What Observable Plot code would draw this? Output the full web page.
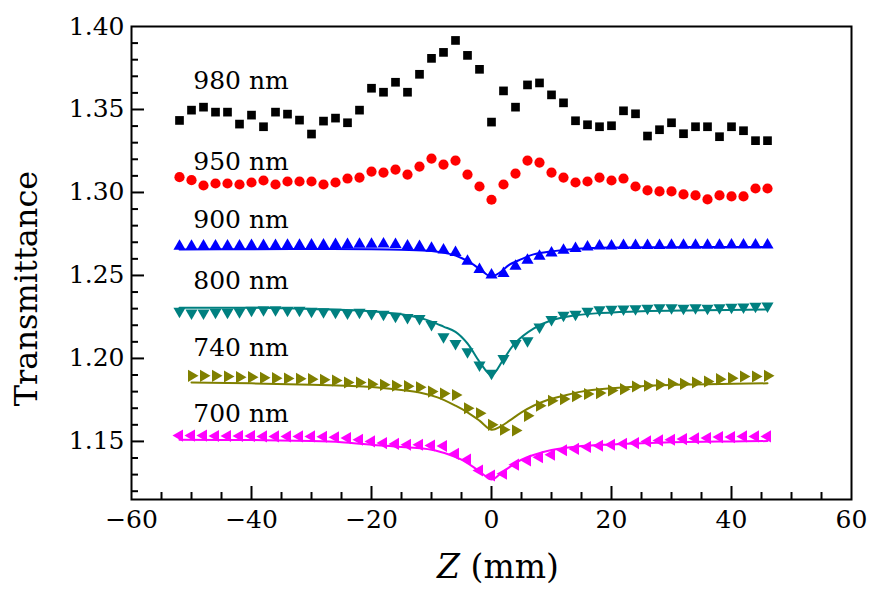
<!DOCTYPE html>
<html><head><meta charset="utf-8">
<script src="https://cdn.jsdelivr.net/npm/d3@7"></script>
<script src="https://cdn.jsdelivr.net/npm/@observablehq/plot@0.6"></script>
<style>body{margin:0;background:#fff}#chart{width:880px;height:592px}</style>
</head><body><div id="chart"></div>
<script>
// ---------- data ----------
const zPos = [-52,-50,-48,-46,-44,-42,-40,-38,-36,-34,-32,-30,-28,-26,-24,-22,-20,-18,-16,-14,-12,-10,-8,-6,-4,-2,0,2,4,6,8,10,12,14,16,18,20,22,24,26,28,30,32,34,36,38,40,42,44,46];
const zPos740 = [-50,-48,-46,-44,-42,-40,-38,-36,-34,-32,-30,-28,-26,-24,-22,-20,-18,-16,-14,-12,-10,-8,-6,-4,-2,0,2,4,6,8,10,12,14,16,18,20,22,24,26,28,30,32,34,36,38,40,42,44,46];

const t980 = [1.3434,1.3496,1.3514,1.3484,1.3484,1.3412,1.3466,1.3396,1.3484,1.3472,1.3436,1.3352,1.3430,1.3448,1.3420,1.3496,1.3628,1.3604,1.3664,1.3604,1.3712,1.3808,1.3844,1.3916,1.3826,1.3742,1.3424,1.3612,1.3514,1.3648,1.3660,1.3588,1.3540,1.3432,1.3408,1.3396,1.3402,1.3492,1.3474,1.3340,1.3378,1.3420,1.3354,1.3396,1.3396,1.3336,1.3396,1.3372,1.3312,1.3312];
const t950 = [1.3092,1.3074,1.3042,1.3054,1.3054,1.3048,1.3060,1.3072,1.3048,1.3066,1.3066,1.3066,1.3048,1.3060,1.3084,1.3090,1.3126,1.3120,1.3138,1.3108,1.3156,1.3204,1.3168,1.3192,1.3108,1.3036,1.2956,1.3048,1.3114,1.3192,1.3180,1.3120,1.3090,1.3060,1.3066,1.3090,1.3072,1.3084,1.3036,1.3012,1.3006,1.3006,1.2988,1.2982,1.2958,1.2982,1.2976,1.2976,1.3024,1.3024];
const t900 = [1.2676,1.2676,1.2678,1.2678,1.2678,1.2678,1.2680,1.2680,1.2680,1.2682,1.2682,1.2684,1.2684,1.2686,1.2686,1.2688,1.2688,1.2690,1.2686,1.2678,1.2674,1.2664,1.2654,1.2638,1.2586,1.2536,1.2502,1.2512,1.2556,1.2592,1.2616,1.2636,1.2652,1.2662,1.2672,1.2678,1.2678,1.2680,1.2680,1.2680,1.2680,1.2682,1.2682,1.2682,1.2682,1.2682,1.2684,1.2684,1.2684,1.2684];
const t800 = [1.2285,1.2273,1.2273,1.2278,1.2278,1.2282,1.2290,1.2294,1.2294,1.2290,1.2290,1.2285,1.2282,1.2278,1.2273,1.2278,1.2270,1.2266,1.2254,1.2246,1.2240,1.2204,1.2130,1.2090,1.2040,1.1960,1.1910,1.2000,1.2090,1.2106,1.2190,1.2234,1.2260,1.2266,1.2284,1.2294,1.2296,1.2298,1.2300,1.2302,1.2305,1.2305,1.2302,1.2305,1.2302,1.2305,1.2308,1.2310,1.2314,1.2316];
const t740 = [1.1895,1.1895,1.1895,1.1891,1.1887,1.1887,1.1883,1.1881,1.1879,1.1877,1.1875,1.1871,1.1867,1.1855,1.1855,1.1845,1.1841,1.1835,1.1833,1.1826,1.1800,1.1788,1.1780,1.1700,1.1670,1.1600,1.1570,1.1566,1.1654,1.1715,1.1745,1.1755,1.1772,1.1786,1.1791,1.1807,1.1815,1.1831,1.1835,1.1841,1.1847,1.1847,1.1855,1.1861,1.1875,1.1881,1.1891,1.1891,1.1895];
const t700 = [1.1535,1.1535,1.1535,1.1533,1.1533,1.1533,1.1533,1.1530,1.1530,1.1530,1.1530,1.1530,1.1528,1.1525,1.1520,1.1510,1.1500,1.1490,1.1485,1.1480,1.1480,1.1475,1.1472,1.1425,1.1390,1.1325,1.1295,1.1305,1.1360,1.1385,1.1405,1.1420,1.1447,1.1455,1.1466,1.1474,1.1480,1.1486,1.1490,1.1500,1.1506,1.1510,1.1514,1.1518,1.1520,1.1526,1.1526,1.1530,1.1530,1.1530];

// fitted curves
const fitZ900 = [-52,-40,-30,-20,-15,-10,-7,-5,-3,-1.5,0,1.5,3,5,7,10,15,20,30,40,46];
const fit900  = [1.2656,1.2658,1.2660,1.2658,1.2655,1.2648,1.2630,1.2605,1.2565,1.2525,1.2493,1.2520,1.2565,1.2598,1.2627,1.2645,1.2662,1.2668,1.2670,1.2672,1.2672];
const fitZ800 = [-52,-40,-30,-20,-15,-12,-10,-8,-6,-4,-2,0,2,4,7,10,14,18,25,35,46];
const fit800  = [1.2305,1.2305,1.2298,1.2285,1.2266,1.2245,1.2222,1.2192,1.2160,1.2090,1.1980,1.1900,1.1995,1.2095,1.2180,1.2230,1.2260,1.2273,1.2285,1.2290,1.2295];
const fitZ740 = [-50,-40,-30,-20,-15,-12,-9,-6,-4,-2,0,1.5,3,5,7,9,12,15,20,25,30,36,46];
const fit740  = [1.1855,1.1850,1.1842,1.1828,1.1810,1.1795,1.1765,1.1715,1.1675,1.1625,1.1570,1.1590,1.1625,1.1675,1.1715,1.1745,1.1775,1.1800,1.1820,1.1833,1.1840,1.1845,1.1850];
const fitZ700 = [-52,-40,-30,-25,-20,-15,-10,-7,-5,-3,-1.5,0,1.5,3,5,7,10,15,20,30,40,46];
const fit700  = [1.1510,1.1508,1.1502,1.1495,1.1480,1.1467,1.1450,1.1420,1.1390,1.1345,1.1305,1.1270,1.1305,1.1345,1.1390,1.1418,1.1448,1.1472,1.1482,1.1495,1.1500,1.1502];

// series labels (annotation anchors in data units)
const labelText = ["980 nm","950 nm","900 nm","800 nm","740 nm","700 nm"];
const labelZ    = [-49.7,-49.7,-49.7,-49.7,-49.7,-49.7];
const labelT    = [1.3674,1.3184,1.2832,1.2466,1.2063,1.1663];

// ticks
const xMajor = [-60,-40,-20,0,20,40,60];
const xMinor = [-55,-50,-45,-35,-30,-25,-15,-10,-5,5,10,15,25,30,35,45,50,55];
const yMajor = [1.15,1.20,1.25,1.30,1.35,1.40];
const yMinor = [1.12,1.13,1.14,1.16,1.17,1.18,1.19,1.21,1.22,1.23,1.24,1.26,1.27,1.28,1.29,1.31,1.32,1.33,1.34,1.36,1.37,1.38,1.39];

// ---------- symbols ----------
const s3 = Math.sqrt(3);
const triDown  = {draw(c, size){const a=Math.sqrt(size/(3*s3)); c.moveTo(0,2*a); c.lineTo(-s3*a,-a); c.lineTo(s3*a,-a); c.closePath();}};
const triRight = {draw(c, size){const a=Math.sqrt(size/(3*s3)); c.moveTo(2*a,0); c.lineTo(-a,-s3*a); c.lineTo(-a,s3*a); c.closePath();}};
const triLeft  = {draw(c, size){const a=Math.sqrt(size/(3*s3)); c.moveTo(-2*a,0); c.lineTo(a,-s3*a); c.lineTo(a,s3*a); c.closePath();}};

const rows = (zs, ts) => zs.map((z, i) => ({z, t: ts[i]}));

const W = 880, H = 592, mL = 131, mR = 29, mT = 26, mB = 93;
const innerW = W - mL - mR, innerH = H - mT - mB;
const FONT = "'DejaVu Serif', serif";

const scatter = [
  {data: rows(zPos, t980), symbol: "square", color: "#000000", r: 4.9},
  {data: rows(zPos, t950), symbol: "circle", color: "#ff0000", r: 5.1},
  {data: rows(zPos, t900), symbol: "triangle", color: "#0000ff", r: 4.5},
  {data: rows(zPos, t800), symbol: triDown, color: "#008080", r: 4.5},
  {data: rows(zPos740, t740), symbol: triRight, color: "#808000", r: 4.5},
  {data: rows(zPos, t700), symbol: triLeft, color: "#ff00ff", r: 4.5}
];
const fits = [
  {data: rows(fitZ900, fit900), color: "#0000ff"},
  {data: rows(fitZ800, fit800), color: "#008080"},
  {data: rows(fitZ740, fit740), color: "#808000"},
  {data: rows(fitZ700, fit700), color: "#ff00ff"}
];
const labels = labelText.map((s, i) => ({s, z: labelZ[i], t: labelT[i]}));

const fmtX = d => d < 0 ? "\u2212" + (-d) : String(d);

const plot = Plot.plot({
  width: W, height: H,
  marginLeft: mL, marginRight: mR, marginTop: mT, marginBottom: mB,
  style: {fontFamily: FONT, fontSize: "25px", background: "#fff", color: "#000"},
  x: {domain: [-60, 60]},
  y: {domain: [1.115, 1.40]},
  marks: [
    Plot.axisX({ticks: xMajor, tickSize: 0, tickPadding: 11, tickFormat: fmtX, fontSize: 25, label: null}),
    Plot.axisY({ticks: yMajor, tickSize: 0, tickPadding: 7, tickFormat: d3.format(".2f"), fontSize: 25, label: null}),
    Plot.tickX(xMajor.slice(1, -1), {x: d => d, insetTop: innerH - 13, stroke: "#000", strokeWidth: 2}),
    Plot.tickX(xMinor, {x: d => d, insetTop: innerH - 7, stroke: "#000", strokeWidth: 2}),
    Plot.tickY(yMajor.slice(0, -1), {y: d => d, insetRight: innerW - 13, stroke: "#000", strokeWidth: 2}),
    Plot.tickY(yMinor, {y: d => d, insetRight: innerW - 7, stroke: "#000", strokeWidth: 2}),
    ...scatter.map(s => Plot.dot(s.data, {x: "z", y: "t", symbol: () => s.symbol, fill: s.color, stroke: "none", r: s.r})),
    ...fits.map(f => Plot.line(f.data, {x: "z", y: "t", stroke: f.color, strokeWidth: 2, curve: "catmull-rom"})),
    Plot.text(labels, {x: "z", y: "t", text: "s", textAnchor: "start", fontSize: 25, fill: "#000"}),
    Plot.frame({stroke: "#000", strokeWidth: 2})
  ]
});

const svg = d3.select(plot);
svg.append("text")
  .attr("transform", `translate(26,${mT + innerH * 0.555}) rotate(-90)`)
  .attr("text-anchor", "middle")
  .attr("dominant-baseline", "central")
  .attr("font-family", FONT).attr("font-size", 32).attr("fill", "#000")
  .text("Transmittance");
const xt = svg.append("text")
  .attr("x", mL + innerW / 2 + 7).attr("y", 578)
  .attr("text-anchor", "middle")
  .attr("font-family", FONT).attr("font-size", 33).attr("fill", "#000");
xt.append("tspan").attr("font-style", "italic").text("Z");
xt.append("tspan").text(" (mm)");

document.getElementById("chart").appendChild(plot);
</script></body></html>
